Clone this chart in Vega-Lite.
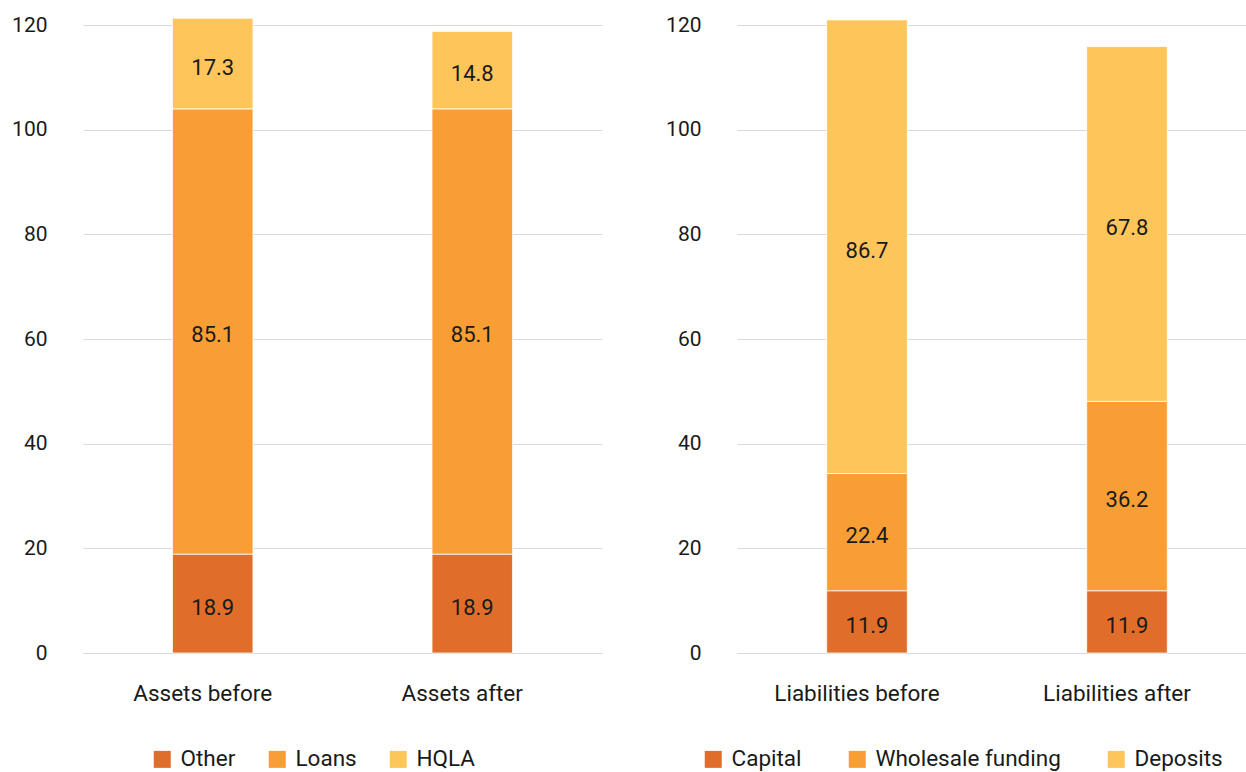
{
  "$schema": "https://vega.github.io/schema/vega-lite/v6.json",
  "padding": {"left": 11, "top": 0, "right": 0, "bottom": 0},
  "background": "white",
  "datasets": {
    "assets": [
      {"bar": "Assets before", "component": "Other", "value": 18.9, "order": 1},
      {"bar": "Assets before", "component": "Loans", "value": 85.1, "order": 2},
      {"bar": "Assets before", "component": "HQLA", "value": 17.3, "order": 3},
      {"bar": "Assets after", "component": "Other", "value": 18.9, "order": 1},
      {"bar": "Assets after", "component": "Loans", "value": 85.1, "order": 2},
      {"bar": "Assets after", "component": "HQLA", "value": 14.8, "order": 3}
    ],
    "liabilities": [
      {"bar": "Liabilities before", "component": "Capital", "value": 11.9, "order": 1},
      {"bar": "Liabilities before", "component": "Wholesale funding", "value": 22.4, "order": 2},
      {"bar": "Liabilities before", "component": "Deposits", "value": 86.7, "order": 3},
      {"bar": "Liabilities after", "component": "Capital", "value": 11.9, "order": 1},
      {"bar": "Liabilities after", "component": "Wholesale funding", "value": 36.2, "order": 2},
      {"bar": "Liabilities after", "component": "Deposits", "value": 67.8, "order": 3}
    ]
  },
  "config": {
    "font": "Roboto",
    "view": {"stroke": null},
    "axis": {
      "labelFont": "Roboto",
      "labelFontSize": 21,
      "labelColor": "#1a1a1a",
      "title": null,
      "ticks": false
    },
    "legend": {
      "labelFont": "Roboto",
      "labelFontSize": 22.5,
      "labelColor": "#1a1a1a",
      "labelLimit": 0,
      "padding": 0
    }
  },
  "spacing": 63,
  "resolve": {"scale": {"color": "independent", "y": "independent", "x": "independent"}, "legend": {"color": "independent"}},
  "hconcat": [
    {
      "width": 519,
      "height": 653,
      "data": {"name": "assets"},
      "transform": [
        {"stack": "value", "groupby": ["bar"], "sort": [{"field": "order"}], "as": ["v0", "v1"]},
        {"calculate": "(datum.v0 + datum.v1) / 2", "as": "mid"}
      ],
      "encoding": {
        "x": {
          "field": "bar", "type": "nominal", "sort": ["Assets before", "Assets after"],
          "scale": {"paddingInner": 0, "paddingOuter": 0},
          "axis": {"labelAngle": 0, "labelPadding": 29, "labelFontSize": 22.5, "labelOffset": -10, "domain": true, "domainColor": "#d9d9d9", "domainWidth": 1, "grid": false}
        }
      },
      "layer": [
        {
          "mark": {"type": "bar", "width": {"band": 0.31}, "stroke": "white", "strokeWidth": 0.75},
          "encoding": {
            "y": {
              "field": "v0", "type": "quantitative",
              "scale": {"domain": [0, 124.8], "nice": false, "zero": true},
              "axis": {"values": [0, 20, 40, 60, 80, 100, 120], "grid": true, "gridColor": "#d9d9d9", "gridWidth": 1, "domain": false, "labelPadding": 36}
            },
            "y2": {"field": "v1"},
            "color": {
              "field": "component", "type": "nominal",
              "scale": {"domain": ["Other", "Loans", "HQLA"], "range": ["#E06E2A", "#F89E35", "#FEC55B"]},
              "legend": {"orient": "none", "legendX": 68, "legendY": 748, "direction": "horizontal", "title": null, "symbolType": "square", "symbolSize": 289, "symbolStrokeWidth": 0, "columnPadding": 30, "labelOffset": 7}
            }
          }
        },
        {
          "mark": {"type": "text", "fontSize": 22, "dy": 4, "color": "#1a1a1a", "font": "Roboto"},
          "encoding": {
            "y": {"field": "mid", "type": "quantitative"},
            "text": {"field": "value", "type": "quantitative", "format": ".1f"}
          }
        }
      ]
    },
    {
      "width": 520,
      "height": 653,
      "data": {"name": "liabilities"},
      "transform": [
        {"stack": "value", "groupby": ["bar"], "sort": [{"field": "order"}], "as": ["v0", "v1"]},
        {"calculate": "(datum.v0 + datum.v1) / 2", "as": "mid"}
      ],
      "encoding": {
        "x": {
          "field": "bar", "type": "nominal", "sort": ["Liabilities before", "Liabilities after"],
          "scale": {"paddingInner": 0, "paddingOuter": 0},
          "axis": {"labelAngle": 0, "labelPadding": 29, "labelFontSize": 22.5, "labelOffset": -10, "domain": true, "domainColor": "#d9d9d9", "domainWidth": 1, "grid": false}
        }
      },
      "layer": [
        {
          "mark": {"type": "bar", "width": {"band": 0.31}, "stroke": "white", "strokeWidth": 0.75},
          "encoding": {
            "y": {
              "field": "v0", "type": "quantitative",
              "scale": {"domain": [0, 124.8], "nice": false, "zero": true},
              "axis": {"values": [0, 20, 40, 60, 80, 100, 120], "grid": true, "gridColor": "#d9d9d9", "gridWidth": 1, "domain": false, "labelPadding": 36}
            },
            "y2": {"field": "v1"},
            "color": {
              "field": "component", "type": "nominal",
              "scale": {"domain": ["Capital", "Wholesale funding", "Deposits"], "range": ["#E06E2A", "#F89E35", "#FEC55B"]},
              "legend": {"orient": "none", "legendX": -35, "legendY": 748, "direction": "horizontal", "title": null, "symbolType": "square", "symbolSize": 289, "symbolStrokeWidth": 0, "columnPadding": 44, "labelOffset": 7}
            }
          }
        },
        {
          "mark": {"type": "text", "fontSize": 22, "dy": 4, "color": "#1a1a1a", "font": "Roboto"},
          "encoding": {
            "y": {"field": "mid", "type": "quantitative"},
            "text": {"field": "value", "type": "quantitative", "format": ".1f"}
          }
        }
      ]
    }
  ]
}
